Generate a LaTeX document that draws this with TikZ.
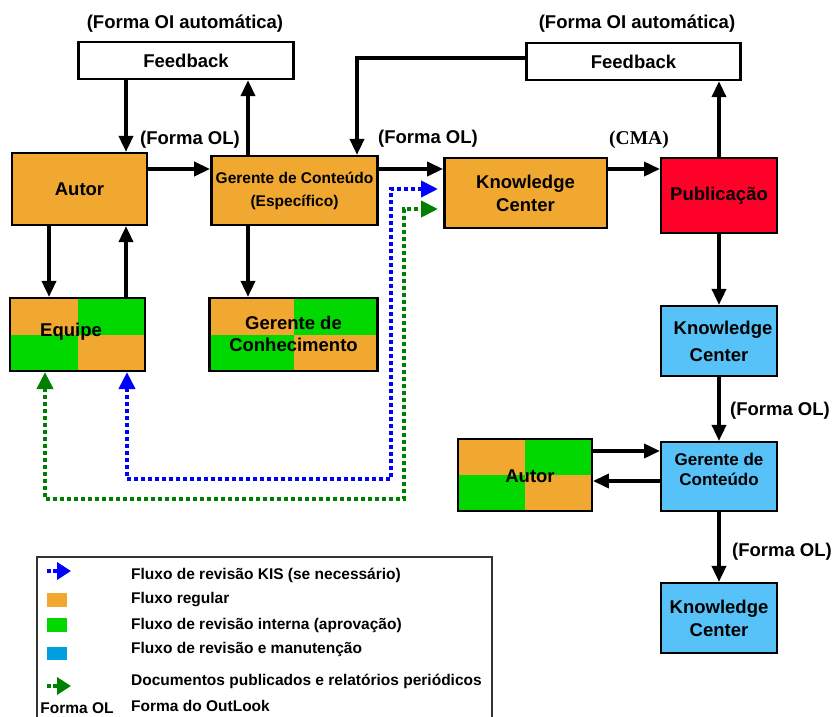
\documentclass[tikz,border=0pt]{standalone}
\usepackage{fontspec}
\setmainfont{Liberation Sans}
\newfontfamily\cmafont{Liberation Serif}
\usetikzlibrary{arrows.meta}

\definecolor{flowor}{RGB}{240,168,48}
\definecolor{flowgr}{RGB}{0,216,0}
\definecolor{pubred}{RGB}{255,0,40}
\definecolor{mainblue}{RGB}{86,194,248}
\definecolor{keyblue}{RGB}{0,160,224}
\definecolor{dotgreen}{RGB}{0,128,0}

\begin{document}
\begin{tikzpicture}[x=1bp,y=-1bp,
  box/.style={draw=black, line width=2.4bp, inner sep=0pt, align=center,
    font=\bfseries\fontsize{18.5bp}{23bp}\selectfont},
  smalltext/.style={font=\bfseries\fontsize{15.5bp}{23bp}\selectfont},
  orbox/.style={box, fill=flowor},
  bluebox/.style={box, fill=mainblue},
  whitebox/.style={box, fill=white},
  checker/.style={box, path picture={
    \fill[flowor] (path picture bounding box.north west) rectangle (path picture bounding box.center);
    \fill[flowgr] (path picture bounding box.north east) rectangle (path picture bounding box.center);
    \fill[flowgr] (path picture bounding box.south west) rectangle (path picture bounding box.center);
    \fill[flowor] (path picture bounding box.south east) rectangle (path picture bounding box.center);}},
  lbl/.style={font=\bfseries\fontsize{18.5bp}{22bp}\selectfont, inner sep=0pt},
  arr/.style={line width=3.6bp, -{Triangle[width=14bp,length=16bp]}},
  bluedots/.style={draw=blue, line width=4bp, dash pattern=on 4bp off 3bp,
    {Triangle[width=16bp,length=17bp]}-{Triangle[width=16bp,length=17bp]}},
  greendots/.style={draw=dotgreen, line width=4bp, dash pattern=on 4bp off 3bp,
    {Triangle[width=16bp,length=17bp]}-{Triangle[width=16bp,length=17bp]}},
  keytext/.style={anchor=west, inner sep=0pt, font=\bfseries\fontsize{15.5bp}{18bp}\selectfont}
]
\useasboundingbox (0,0) rectangle (834,717);

% ---- boxes of the main flow
\node[whitebox, minimum width=216, minimum height=37] (fb1) at (186,60.5) {Feedback};
\node[whitebox, minimum width=215, minimum height=37] (fb2) at (633.5,61.5) {Feedback};
\node[orbox, minimum width=135, minimum height=72] (autor) at (79.5,189) {Autor};
\node[orbox, smalltext, minimum width=167, minimum height=69] (gc1) at (294.5,190.5) {Gerente de Conteúdo\\(Específico)};
\node[orbox, minimum width=163, minimum height=70] (kc1) at (525.5,193) {Knowledge\\Center};
\node[box, fill=pubred, minimum width=116, minimum height=75] (pub) at (719,195.5) {Publicação};
\node[checker, minimum width=135, minimum height=73] (equipe) at (77.5,334.5) {};
\node[lbl] at (71,332) {Equipe};
\node[checker, minimum width=169, minimum height=73] (gdc) at (293.5,334.5) {};
\node[lbl, align=center, font=\bfseries\fontsize{18.5bp}{22bp}\selectfont] at (293.5,334) {Gerente de\\Conhecimento};
\node[bluebox, minimum width=116, minimum height=70, font=\bfseries\fontsize{18.5bp}{27bp}\selectfont] (kc2) at (719,341) {\hspace*{8bp}Knowledge\\Center};
\node[bluebox, minimum width=116, minimum height=69, font=\bfseries\fontsize{17bp}{20bp}\selectfont] (gc2) at (719,476.5) {Gerente de\\Conteúdo\\[-5bp]};
\node[checker, minimum width=134, minimum height=72] (autor2) at (525,475) {};
\node[lbl] at (530,476) {Autor};
\node[bluebox, minimum width=117, minimum height=70] (kc3) at (719,618) {Knowledge\\Center};

% ---- labels
\node[lbl] at (185,24) {(Forma OI automática)};
\node[lbl] at (637,24) {(Forma OI automática)};
\node[lbl] at (190,140) {(Forma OL)};
\node[lbl] at (428,139) {(Forma OL)};
\node[inner sep=0pt, font=\cmafont\bfseries\fontsize{19.5bp}{22bp}\selectfont] at (639,140) {(CMA)};
\node[lbl] at (780,411) {(Forma OL)};
\node[lbl] at (782,552) {(Forma OL)};

% ---- helper coordinates for the connector lines
\coordinate (row) at (0,169);
\coordinate (cA) at (126,0);
\coordinate (cB) at (49,0);
\coordinate (cC) at (248,0);
\coordinate (fbcorner) at (357,58);
\coordinate (rowA) at (0,451);
\coordinate (rowB) at (0,481);

% ---- black connectors
\draw[arr] (fb1.south -| cA) -- (autor.north -| cA);
\draw[arr] (gc1.north -| cC) -- (fb1.south -| cC);
\draw[arr] (autor.east |- row) -- (gc1.west |- row);
\draw[arr] (gc1.east |- row) -- (kc1.west |- row);
\draw[arr] (kc1.east |- row) -- (pub.west |- row);
\draw[arr] (fb2.west |- fbcorner) -- (fbcorner) -- (fbcorner |- gc1.north);
\draw[arr] (pub.north) -- (fb2.south -| pub.north);
\draw[arr] (autor.south -| cB) -- (equipe.north -| cB);
\draw[arr] (equipe.north -| cA) -- (autor.south -| cA);
\draw[arr] (gc1.south -| cC) -- (gdc.north -| cC);
\draw[arr] (pub.south) -- (pub.south |- kc2.north);
\draw[arr] (kc2.south) -- (kc2.south |- gc2.north);
\draw[arr] (autor2.east |- rowA) -- (gc2.west |- rowA);
\draw[arr] (gc2.west |- rowB) -- (autor2.east |- rowB);
\draw[arr] (gc2.south) -- (gc2.south |- kc3.north);

% ---- dotted review loops
\coordinate (bA) at (127,479);
\coordinate (bB) at (391,479);
\coordinate (bT) at (438,189);
\coordinate (gA) at (45,499);
\coordinate (gB) at (404,499);
\coordinate (gT) at (438,209);
\draw[bluedots] (equipe.south -| bA) -- (bA) -- (bB) -- (bB |- bT) -- (bT);
\draw[greendots] (equipe.south -| gA) -- (gA) -- (gB) -- (gB |- gT) -- (gT);

% ---- key
\draw[line width=1.2bp, draw=black!80] (37,720) -- (37,557) -- (492,557) -- (492,720);
\draw[blue, line width=4bp, dash pattern=on 4bp off 2bp, -{Triangle[width=17bp,length=14bp]}] (47,571) -- (71,571);
\fill[flowor] (47,593) rectangle (67,607);
\fill[flowgr] (47,618) rectangle (67,632);
\fill[keyblue] (47,647) rectangle (67,660);
\draw[dotgreen, line width=4bp, dash pattern=on 4bp off 2bp, -{Triangle[width=17bp,length=14bp]}] (47,686) -- (71,686);
\node[keytext] at (131,575) {Fluxo de revisão KIS (se necessário)};
\node[keytext] at (131,600) {Fluxo regular};
\node[keytext] at (131,625) {Fluxo de revisão interna (aprovação)};
\node[keytext] at (131,649) {Fluxo de revisão e manutenção};
\node[keytext] at (131,681) {Documentos publicados e relatórios periódicos};
\node[keytext] at (131,706) {Forma do OutLook};
\node[inner sep=0pt, font=\bfseries\fontsize{15.5bp}{18bp}\selectfont] at (77,708) {Forma OL};
\end{tikzpicture}
\end{document}
